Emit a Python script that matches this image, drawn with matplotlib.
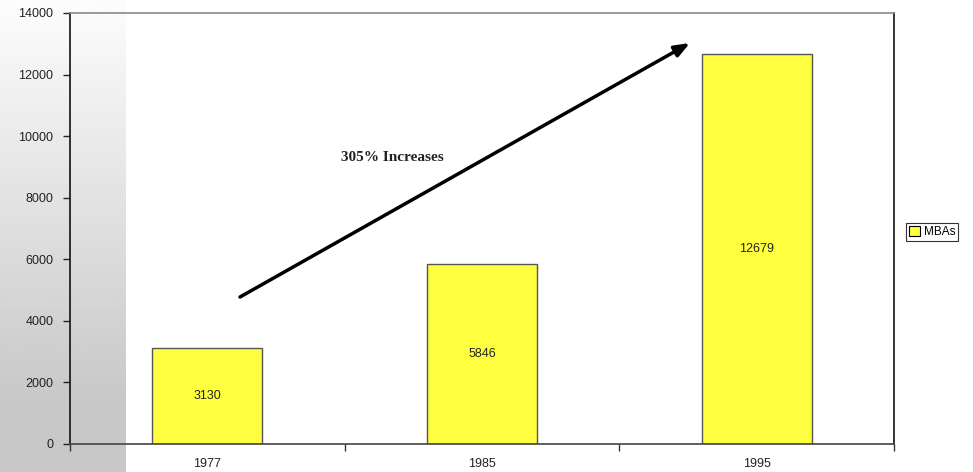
import numpy as np
import matplotlib
matplotlib.use("Agg")
import matplotlib.pyplot as plt
from matplotlib.patches import Patch

years = ["1977", "1985", "1995"]
mbas = [3130, 5846, 12679]
yticks = [0, 2000, 4000, 6000, 8000, 10000, 12000, 14000]
series_name = "MBAs"
note = "305% Increases"

plt.rcParams["font.family"] = ["Liberation Sans", "DejaVu Sans"]

fig = plt.figure(figsize=(9.73, 4.72), dpi=100)
fig.patch.set_facecolor("white")

# grey vertical gradient panel on the left side
bg = fig.add_axes([0, 0, 126 / 973, 1], zorder=0)
grad = np.linspace(0, 1, 256)
ramp = np.clip(grad / 0.85, 0, 1)
shade = 0.99 - (0.99 - 0.784) * ramp
bg.imshow(np.tile(shade[:, None], (1, 2)), cmap="gray", vmin=0, vmax=1,
          aspect="auto", extent=[0, 1, 1, 0], interpolation="bilinear")
bg.set_axis_off()

ax = fig.add_axes([70 / 973, 28 / 472, 824 / 973, 431 / 472], zorder=1)
ax.patch.set_alpha(0)

x = np.arange(len(years))
bars = ax.bar(x, mbas, width=0.4, color="#ffff40", edgecolor="#555555",
              linewidth=1.0, zorder=2)
for xi, v in zip(x, mbas):
    ax.text(xi, v / 2, str(v), ha="center", va="center", fontsize=9,
            color="#222222", zorder=3)

ax.set_xlim(-0.5, len(years) - 0.5)
ax.set_ylim(0, 14000)
ax.set_yticks(yticks)
ax.set_yticklabels([str(t) for t in yticks], fontsize=9, color="#222222")
ax.set_xticks(x)
ax.set_xticklabels(years, fontsize=9, color="#222222")
ax.tick_params(axis="x", which="major", length=0, pad=10)
ax.set_xticks(np.arange(-0.5, len(years), 1.0), minor=True)
ax.tick_params(axis="x", which="minor", length=5, width=1, color="#333333")
ax.tick_params(axis="y", length=5, width=1, color="#222222", pad=7)

ax.spines["left"].set_color("#111111")
ax.spines["right"].set_color("#111111")
ax.spines["top"].set_color("#888888")
ax.spines["bottom"].set_color("#444444")
for s in ax.spines.values():
    s.set_linewidth(1.2)

ax.annotate("", xy=(1.757, 13025), xytext=(0.119, 4775),
            arrowprops=dict(arrowstyle="-|>,head_length=0.9,head_width=0.35",
                            color="black", lw=2.5, shrinkA=0, shrinkB=0),
            zorder=4)
ax.text(0.672, 9322, note, ha="center", va="center", fontsize=11,
        fontweight="bold", family=["Liberation Serif", "DejaVu Serif"],
        color="#222222")

leg = fig.legend(handles=[Patch(facecolor="#ffff40", edgecolor="black", lw=0.8)],
                 labels=[series_name], loc="lower left",
                 bbox_to_anchor=(906 / 973, 1 - 241 / 472), fontsize=8.5,
                 frameon=True, fancybox=False, borderpad=0.25,
                 handlelength=0.9, handleheight=0.9, handletextpad=0.35,
                 borderaxespad=0)
leg.get_frame().set_edgecolor("black")
leg.get_frame().set_linewidth(0.8)

fig.savefig("out.png", dpi=100)
